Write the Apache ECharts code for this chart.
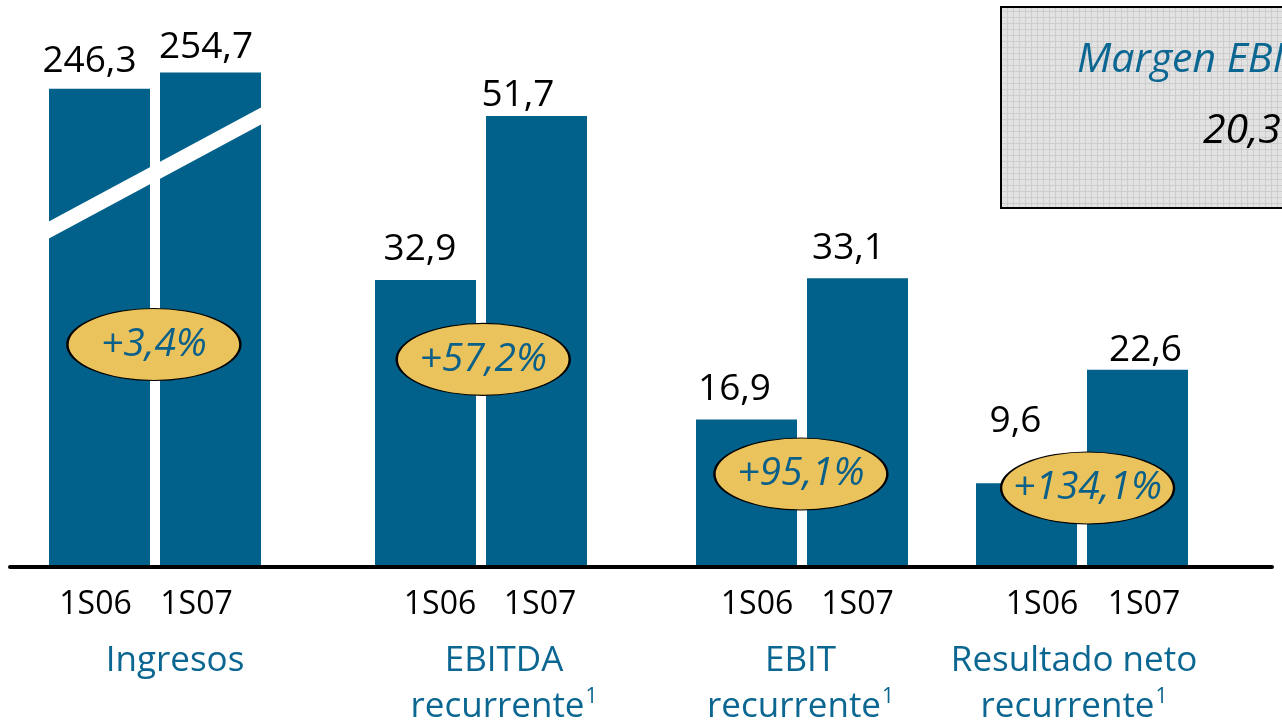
<!DOCTYPE html>
<html>
<head>
<meta charset="utf-8">
<script src="https://cdn.jsdelivr.net/npm/echarts@6/dist/echarts.min.js"></script>
<style>
html,body{margin:0;padding:0;background:#fff;}
#chart{width:1282px;height:727px;}
</style>
</head>
<body>
<div id="chart"></div>
<script>
// ---- data ----
const categories = ['1S06', '1S07'];
const groupNames = ['Ingresos', 'EBITDA\nrecurrente{sup|1}', 'EBIT\nrecurrente{sup|1}', 'Resultado neto\nrecurrente{sup|1}'];
const values1S06 = [246.3, 32.9, 16.9, 9.6];
const values1S07 = [254.7, 51.7, 33.1, 22.6];
const growthLabels = ['+3,4%', '+57,2%', '+95,1%', '+134,1%'];
const boxTitle = 'Margen EBITDA';
const boxValue = '20,3%';

// ---- layout / style constants ----
const FONT = '"Open Sans", "Noto Sans", sans-serif';
const BLUE = '#02618a';
const TEXT_BLUE = '#0b6791';
const gridLefts = [44, 370, 691, 971];
const yMaxes = [292, 65, 65, 65];
const labelDist = [[9, 6], [12, 2], [12, 11], [43, 1]];
const labelDx = [[-10, -4.5], [-5.5, -18.5], [-12, -9], [-11, 8]];
const catShift = [[-4, -14], [14.5, 3.5], [10.5, 0], [15.5, 6.5]];
const nameShift = [20, 23, -1.5, -8];
const ellipseAt = [[0.99, 114.6], [1.02, 23.8], [0.99, 10.66], [1.05, 9.06]];

const fmt = v => v.toFixed(1).replace('.', ',');

// pattern for the box
const pc = document.createElement('canvas');
pc.width = 6; pc.height = 6;
const px = pc.getContext('2d');
px.fillStyle = '#e6e6e6'; px.fillRect(0, 0, 6, 6);
for (let i = 0; i < 6; i++) for (let j = 0; j < 6; j++) {
  if ((i + j) % 2 === 0) { px.fillStyle = '#dedede'; px.fillRect(i, j, 1, 1); }
}
px.fillStyle = '#cdcdcd'; px.fillRect(0, 5, 6, 1); px.fillRect(5, 0, 1, 6);

const grids = [], xAxes = [], yAxes = [], series = [];
for (let g = 0; g < 4; g++) {
  grids.push({ left: gridLefts[g], width: 222, top: 0, bottom: 160, outerBoundsMode: 'none', containLabel: false });
  const rich = {};
  categories.forEach((c, i) => {
    const s = catShift[g][i];
    rich['c' + i] = {
      fontFamily: FONT, fontSize: 32, fontWeight: 500, color: '#000',
      padding: s >= 0 ? [0, 0, 0, 2 * s] : [0, -2 * s, 0, 0]
    };
  });
  const ns = nameShift[g];
  xAxes.push({
    type: 'category', gridIndex: g, data: categories,
    axisLine: { show: false }, axisTick: { show: false },
    axisLabel: {
      margin: 22,
      formatter: (v, i) => '{c' + i + '|' + v + '}',
      rich: rich
    },
    name: groupNames[g], nameLocation: 'middle', nameGap: 71,
    nameTextStyle: {
      fontFamily: FONT, fontSize: 35, fontWeight: 500, color: TEXT_BLUE, lineHeight: 46,
      padding: ns >= 0 ? [0, 0, 0, 2 * ns] : [0, -2 * ns, 0, 0],
      rich: {
        sup: { fontFamily: FONT, fontSize: 21, fontWeight: 500, color: TEXT_BLUE, verticalAlign: 'top', lineHeight: 20, padding: [3, 0, 0, 1] }
      }
    }
  });
  xAxes.push({ type: 'value', gridIndex: g, min: 0, max: 2, show: false });
  yAxes.push({ type: 'value', gridIndex: g, min: 0, max: yMaxes[g], show: false, splitLine: { show: false } });
  series.push({
    type: 'bar', xAxisIndex: 2 * g, yAxisIndex: g, barWidth: 101, barGap: '0%',
    itemStyle: { color: BLUE },
    data: [values1S06[g], values1S07[g]].map((v, i) => ({
      value: v,
      label: { distance: labelDist[g][i], offset: [labelDx[g][i], 0] }
    })),
    label: {
      show: true, position: 'top', fontFamily: FONT, fontSize: 37, fontWeight: 500, color: '#000',
      formatter: p => fmt(p.value)
    },
    z: 2
  });
  series.push({
    type: 'scatter', xAxisIndex: 2 * g + 1, yAxisIndex: g,
    symbol: 'circle', symbolSize: [173, 72],
    itemStyle: { color: '#ebc35d', borderColor: '#000', borderWidth: 1.6, opacity: 1 },
    label: {
      show: true, position: 'inside', fontFamily: FONT, fontStyle: 'italic', fontWeight: 500,
      fontSize: 39, color: '#0b6089', formatter: () => growthLabels[g]
    },
    data: [ellipseAt[g]],
    z: 5, silent: true
  });
}
// full-width baseline
grids.push({ left: 10, right: 10, top: 560, bottom: 160, outerBoundsMode: 'none', containLabel: false });
xAxes.push({
  type: 'value', gridIndex: 4, min: 0, max: 1, z: 10,
  axisLine: { show: true, lineStyle: { color: '#000', width: 4 } },
  axisTick: { show: false }, axisLabel: { show: false }, splitLine: { show: false }
});
yAxes.push({ type: 'value', gridIndex: 4, show: false, splitLine: { show: false } });

const chart = echarts.init(document.getElementById('chart'), null, { renderer: 'canvas' });
chart.setOption({
  animation: false,
  backgroundColor: '#fff',
  grid: grids, xAxis: xAxes, yAxis: yAxes, series: series,
  graphic: [
    { type: 'line', z: 100, shape: { x1: 44, y1: 232.7, x2: 265, y2: 113.8 }, style: { stroke: '#fff', lineWidth: 15 } },
    { type: 'rect', z: 100, shape: { x: 1001, y: 7, width: 320, height: 201 },
      style: { fill: { image: pc, repeat: 'repeat' }, stroke: '#000', lineWidth: 2 } },
    { type: 'text', z: 101, x: 1077, y: 60,
      style: { text: boxTitle, font: 'italic 500 41px ' + FONT, fill: TEXT_BLUE, textVerticalAlign: 'middle', verticalAlign: 'middle' } },
    { type: 'text', z: 101, x: 1203, y: 131,
      style: { text: boxValue, font: 'italic 500 41px ' + FONT, fill: '#000', textVerticalAlign: 'middle', verticalAlign: 'middle' } }
  ]
});
</script>
</body>
</html>
